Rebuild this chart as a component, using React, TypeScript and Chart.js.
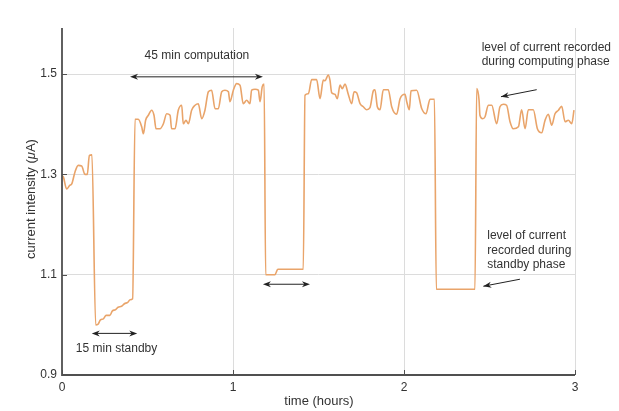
import { useEffect, useRef } from "react";
import { Chart, registerables } from "chart.js";

Chart.register(...registerables);

// Time in hours and measured current in µA
const hours = [
  0.0, 0.008, 0.027, 0.045, 0.057, 0.076, 0.095, 0.115, 0.134, 0.148, 0.16, 0.175,
  0.197, 0.21, 0.225, 0.242, 0.258, 0.28, 0.295, 0.312, 0.328, 0.348, 0.365, 0.385, 0.398, 0.413,
  0.427, 0.446, 0.466, 0.476, 0.489, 0.505, 0.524, 0.538, 0.55, 0.573, 0.593, 0.612, 0.632, 0.641,
  0.661, 0.68, 0.7, 0.709, 0.725, 0.739, 0.758, 0.778, 0.797, 0.817, 0.836, 0.856, 0.875, 0.895,
  0.914, 0.934, 0.953, 0.973, 0.982, 1.002, 1.021, 1.041, 1.06, 1.08, 1.099, 1.109, 1.129, 1.148,
  1.158, 1.171, 1.182,
  1.191, 1.245, 1.262, 1.411,
  1.421, 1.441, 1.46, 1.489, 1.509, 1.528, 1.538, 1.557, 1.567, 1.577, 1.596, 1.61, 1.626, 1.639,
  1.655, 1.674, 1.694, 1.708, 1.723, 1.743, 1.762, 1.782, 1.801, 1.821, 1.83, 1.844, 1.86, 1.879,
  1.908, 1.928, 1.957, 1.977, 2.006, 2.016, 2.031, 2.041, 2.074, 2.104, 2.129, 2.152, 2.178,
  2.189, 2.415,
  2.425, 2.439, 2.444, 2.46, 2.474, 2.493, 2.513, 2.542, 2.561, 2.581, 2.6, 2.62, 2.639, 2.669,
  2.688, 2.708, 2.727, 2.756, 2.78, 2.805, 2.825, 2.844, 2.864, 2.883, 2.903, 2.922, 2.942, 2.961,
  2.981, 2.994,
];

const current = [
  1.298, 1.295, 1.271, 1.278, 1.281, 1.305, 1.318, 1.317, 1.3, 1.3, 1.338, 1.339,
  1.0, 1.001, 1.01, 1.012, 1.019, 1.019, 1.028, 1.03, 1.035, 1.037, 1.042, 1.045, 1.05, 1.052,
  1.41, 1.41, 1.395, 1.381, 1.408, 1.418, 1.428, 1.418, 1.391, 1.391, 1.401, 1.421, 1.418, 1.391,
  1.391, 1.428, 1.438, 1.401, 1.408, 1.401, 1.428, 1.438, 1.441, 1.411, 1.428, 1.465, 1.468, 1.431,
  1.431, 1.465, 1.468, 1.465, 1.445, 1.468, 1.481, 1.478, 1.441, 1.448, 1.441, 1.468, 1.47, 1.468,
  1.445, 1.475, 1.48,
  1.1, 1.1, 1.111, 1.111,
  1.458, 1.461, 1.489, 1.489, 1.451, 1.488, 1.487, 1.498, 1.488, 1.463, 1.46, 1.451, 1.478, 1.471,
  1.48, 1.46, 1.441, 1.465, 1.463, 1.441, 1.435, 1.429, 1.433, 1.467, 1.469, 1.435, 1.429, 1.469,
  1.469, 1.435, 1.42, 1.451, 1.46, 1.445, 1.429, 1.467, 1.468, 1.431, 1.421, 1.45, 1.45,
  1.071, 1.071,
  1.471, 1.448, 1.418, 1.411, 1.415, 1.438, 1.438, 1.401, 1.435, 1.44, 1.438, 1.405, 1.391, 1.395,
  1.429, 1.391, 1.429, 1.429, 1.391, 1.383, 1.408, 1.42, 1.398, 1.421, 1.428, 1.436, 1.405, 1.408,
  1.401, 1.428,
];

const xTicks = [0, 1, 2, 3];
const yTicks = [0.9, 1.1, 1.3, 1.5];

// Annotation texts
const computeSpanLabel = "45 min computation";
const standbySpanLabel = "15 min standby";
const computeNote = ["level of current recorded", "during computing phase"];
const standbyNote = ["level of current", "recorded during", "standby phase"];

const FONT = '"Liberation Sans", Arial, Helvetica, sans-serif';
const TEXT = "#333333";
const AXIS = "#505050";
const GRID = "#dcdcdc";
const LINE = "#e9a46a";
const INK = "#222222";

function arrowHead(ctx: CanvasRenderingContext2D, fx: number, fy: number, tx: number, ty: number) {
  const ang = Math.atan2(ty - fy, tx - fx);
  const len = 8;
  const half = 3;
  ctx.beginPath();
  ctx.moveTo(tx, ty);
  ctx.lineTo(tx - len * Math.cos(ang) + half * Math.sin(ang), ty - len * Math.sin(ang) - half * Math.cos(ang));
  ctx.lineTo(tx - len * Math.cos(ang) * 0.7, ty - len * Math.sin(ang) * 0.7);
  ctx.lineTo(tx - len * Math.cos(ang) - half * Math.sin(ang), ty - len * Math.sin(ang) + half * Math.cos(ang));
  ctx.closePath();
  ctx.fill();
}

const frame = {
  id: "frame",
  afterDraw(chart: any) {
    const { ctx, chartArea: a, scales } = chart;
    const xs = scales.x;
    const ys = scales.y;
    const px = (v: number) => xs.getPixelForValue(v);
    const py = (v: number) => ys.getPixelForValue(v);
    ctx.save();

    // axes
    ctx.strokeStyle = AXIS;
    ctx.lineWidth = 1.8;
    ctx.beginPath();
    ctx.moveTo(a.left, a.top);
    ctx.lineTo(a.left, a.bottom);
    ctx.lineTo(a.right, a.bottom);
    ctx.stroke();

    // inward tick marks
    ctx.lineWidth = 1;
    ctx.beginPath();
    yTicks.forEach((v) => {
      const y = Math.round(py(v)) + 0.5;
      ctx.moveTo(a.left, y);
      ctx.lineTo(a.left + 5, y);
    });
    xTicks.forEach((v) => {
      const x = Math.round(px(v)) + 0.5;
      ctx.moveTo(x, a.bottom);
      ctx.lineTo(x, a.bottom - 5);
    });
    ctx.stroke();

    // axis titles
    ctx.fillStyle = TEXT;
    ctx.font = `13px ${FONT}`;
    ctx.textAlign = "center";
    ctx.textBaseline = "middle";
    ctx.fillText("time (hours)", (a.left + a.right) / 2 + 0.5, 401);

    ctx.save();
    ctx.translate(31, 199);
    ctx.rotate(-Math.PI / 2);
    const parts: [string, string][] = [
      ["current intensity (", `13px ${FONT}`],
      ["\u03bc", `italic 13px ${FONT}`],
      ["A)", `13px ${FONT}`],
    ];
    let total = 0;
    parts.forEach(([t, f]) => {
      ctx.font = f;
      total += ctx.measureText(t).width;
    });
    let cx = -total / 2;
    ctx.textAlign = "left";
    parts.forEach(([t, f]) => {
      ctx.font = f;
      ctx.fillText(t, cx, 0);
      cx += ctx.measureText(t).width;
    });
    ctx.restore();

    // double-headed span arrows
    ctx.strokeStyle = INK;
    ctx.fillStyle = INK;
    ctx.lineWidth = 1;
    const span = (x0: number, x1: number, yv: number) => {
      const a0 = px(x0);
      const a1 = px(x1);
      const y = py(yv);
      ctx.beginPath();
      ctx.moveTo(a0 + 4, y);
      ctx.lineTo(a1 - 4, y);
      ctx.stroke();
      arrowHead(ctx, a1, y, a0, y);
      arrowHead(ctx, a0, y, a1, y);
    };
    span(0.398, 1.175, 1.4946);
    span(0.174, 0.44, 0.983);
    span(1.175, 1.45, 1.081);

    const pointer = (x0: number, y0: number, x1: number, y1: number) => {
      const fx = px(x0), fy = py(y0), tx = px(x1), ty = py(y1);
      ctx.beginPath();
      ctx.moveTo(fx, fy);
      ctx.lineTo(tx, ty);
      ctx.stroke();
      arrowHead(ctx, fx, fy, tx, ty);
    };
    pointer(2.776, 1.469, 2.567, 1.455);
    pointer(2.678, 1.091, 2.464, 1.077);

    // labels
    ctx.fillStyle = TEXT;
    ctx.font = `12px ${FONT}`;
    ctx.textAlign = "center";
    ctx.textBaseline = "middle";
    ctx.fillText(computeSpanLabel, px(0.789), py(1.536));
    ctx.fillText(standbySpanLabel, px(0.319), py(0.953));

    ctx.textAlign = "left";
    computeNote.forEach((t, i) => ctx.fillText(t, px(2.454), py(1.553) + i * 14.4));
    standbyNote.forEach((t, i) => ctx.fillText(t, px(2.487), py(1.177) + i * 14.2));

    ctx.restore();
  },
};

export default function App() {
  const ref = useRef<HTMLCanvasElement>(null);

  useEffect(() => {
    const canvas = ref.current;
    if (!canvas) return;
    const chart = new Chart(canvas, {
      type: "line",
      data: {
        datasets: [
          {
            data: hours.map((h, i) => ({ x: h, y: current[i] })),
            borderColor: LINE,
            borderWidth: 1.6,
            pointRadius: 0,
            cubicInterpolationMode: "monotone",
            fill: false,
          },
        ],
      },
      options: {
        responsive: false,
        animation: false,
        devicePixelRatio: 1,
        layout: { padding: { left: 0, right: 44, top: 28, bottom: 0 } },
        plugins: { legend: { display: false }, tooltip: { enabled: false } },
        scales: {
          x: {
            type: "linear",
            min: 0,
            max: 3,
            afterBuildTicks: (s: any) => {
              s.ticks = xTicks.map((v) => ({ value: v }));
            },
            afterFit: (s: any) => {
              s.height = 36;
            },
            ticks: {
              font: { family: FONT, size: 12 },
              color: TEXT,
              padding: 5,
              maxRotation: 0,
              callback: (v: any) => String(v),
            },
            grid: {
              color: (c: any) => (c.tick && c.tick.value === 0 ? "rgba(0,0,0,0)" : GRID),
              drawTicks: false,
              lineWidth: 1,
            },
            border: { display: false },
          },
          y: {
            type: "linear",
            min: 0.9,
            max: 1.592,
            afterBuildTicks: (s: any) => {
              s.ticks = yTicks.map((v) => ({ value: v }));
            },
            afterFit: (s: any) => {
              s.width = 62;
            },
            ticks: {
              font: { family: FONT, size: 12 },
              color: TEXT,
              padding: 5,
              callback: (v: any) => Number(v).toFixed(1),
            },
            grid: {
              color: (c: any) => (c.tick && Math.abs(c.tick.value - 0.9) < 1e-6 ? "rgba(0,0,0,0)" : GRID),
              drawTicks: false,
              lineWidth: 1,
            },
            border: { display: false },
          },
        },
      },
      plugins: [frame],
    });
    return () => chart.destroy();
  }, []);

  return (
    <div style={{ position: "fixed", left: 0, top: 0, width: 619, height: 411, background: "#ffffff" }}>
      <canvas ref={ref} width={619} height={411} style={{ display: "block" }} />
    </div>
  );
}
